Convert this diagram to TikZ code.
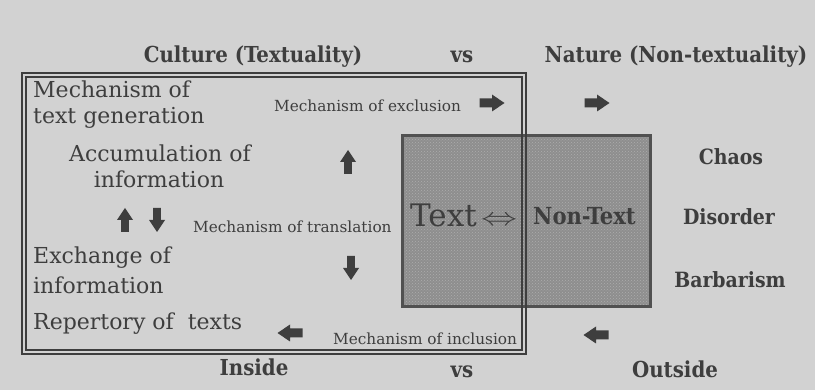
\documentclass[tikz,border=0pt]{standalone}
\usepackage{fontspec}
\setmainfont{DejaVu Serif}
\newfontfamily\condfont{DejaVu Serif Condensed}
\usetikzlibrary{patterns}
\definecolor{bg}{HTML}{D2D2D2}
\definecolor{ink}{HTML}{3E3E3E}
\definecolor{boxfill}{HTML}{8E8E8E}
\definecolor{boxdot}{HTML}{ADADAD}
\tikzset{
  title/.style={font=\condfont\bfseries\fontsize{22}{22}\selectfont, text=ink, inner sep=0pt, anchor=base},
  big/.style={font=\fontsize{22}{22}\selectfont, text=ink, inner sep=0pt, anchor=base west},
  bigc/.style={big, anchor=base},
  small/.style={font=\fontsize{15.3}{15.3}\selectfont, text=ink, inner sep=0pt, anchor=base west},
  side/.style={font=\condfont\bfseries\fontsize{21}{21}\selectfont, text=ink, inner sep=0pt, anchor=base},
  frame/.style={draw=ink, line width=1.4pt},
  harrow/.pic={\fill[ink] (-12.5,-4.5) -- (0,-4.5) -- (0,-8.5) -- (12.5,0) -- (0,8.5) -- (0,4.5) -- (-12.5,4.5) -- cycle;},
  varrow/.pic={\fill[ink] (-12,-3.8) -- (0,-3.8) -- (0,-8) -- (12,0) -- (0,8) -- (0,3.8) -- (-12,3.8) -- cycle;}
}
\begin{document}
\begin{tikzpicture}[x=1pt,y=-1pt]
\fill[bg] (0,0) rectangle (815,390);
\useasboundingbox (0,0) rectangle (815,390);

% shaded Text / Non-Text square
\fill[boxfill] (402,136) rectangle (650,307);
\fill[pattern=crosshatch dots, pattern color=boxdot] (402,136) rectangle (650,307);
\draw[draw=ink!90, line width=3pt] (402,136) rectangle (650,307);

% double-lined culture frame
\draw[frame] (22,73) rectangle (526,354);
\draw[frame] (26,77) rectangle (522,350);

% headings
\node[title] (culture) at (253,63) {Culture (Textuality)};
\node[title] (vs1) at (462,63) {vs};
\node[title] (nature) at (676,63) {Nature (Non-textuality)};
\node[title] (inside) at (254,376) {Inside};
\node[title] (vs2) at (462,378) {vs};
\node[title] (outside) at (675,378) {Outside};

% left texts
\node[big] (gen1) at (33,98) {Mechanism of};
\node[big] (gen2) at (33,124) {text generation};
\node[bigc] (acc1) at (160,162) {Accumulation of};
\node[bigc] (acc2) at (159,188) {information};
\node[big] (exc1) at (33,264) {Exchange of};
\node[big] (exc2) at (33,294) {information};
\node[big] (rep) at (33,330) {Repertory of\ \ texts};

% mechanism labels
\node[small] (mexcl) at (274,112) {Mechanism of exclusion};
\node[small] (mtrans) at (193,233) {Mechanism of translation};
\node[small] (mincl) at (333,345) {Mechanism of inclusion};

% box texts
\node[font=\fontsize{31}{31}\selectfont, text=ink, inner sep=0pt, anchor=base west] (text) at (410,227) {Text};
\node[font=\fontsize{26}{26}\selectfont, text=ink, inner sep=0pt, anchor=base west] (dbl) at (481,226) {\scalebox{1.45}[1]{$\Leftrightarrow$}};
\node[side, font=\condfont\bfseries\fontsize{23.5}{23.5}\selectfont, anchor=base west] (nontext) at (533,225) {Non-Text};

% right column
\node[side] (chaos) at (731,165) {Chaos};
\node[side] (disorder) at (729,225) {Disorder};
\node[side] (barb) at (730,288) {Barbarism};

% block arrows
\pic at (492,103) {harrow};
\pic at (597,103) {harrow};
\pic[rotate=180] at (290,333) {harrow};
\pic[rotate=180] at (596,335) {harrow};
\pic[rotate=90] at (348,162) {varrow};
\pic[rotate=-90] at (351,268) {varrow};
\pic[rotate=90] at (125,220) {varrow};
\pic[rotate=-90] at (157,220) {varrow};
\end{tikzpicture}
\end{document}
